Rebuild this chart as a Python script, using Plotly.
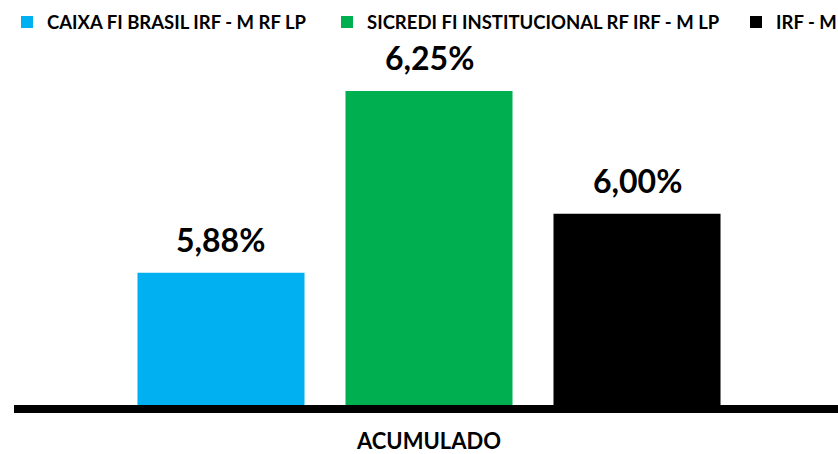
import plotly.graph_objects as go

categories = ["ACUMULADO"]
series_names = ["CAIXA FI BRASIL IRF - M RF LP", "SICREDI FI INSTITUCIONAL RF IRF - M LP", "IRF - M"]
series_values = [[5.88], [6.25], [6.00]]
colors = ["#00B0F0", "#00B050", "#000000"]

FONT = "Lato"
W, H = 838, 454
ml, mr, mt, mb = 14, 0, 50, 49
plot_w = W - ml - mr
plot_h = H - mt - mb
bargap = 0.2427
bargroupgap = 0.197
legend_x_px = [7, 327, 736]
legend_top_px = 3.5

fig = go.Figure()
legend_ids = ["legend", "legend2", "legend3"]
for name, vals, col, lid in zip(series_names, series_values, colors, legend_ids):
    fig.add_trace(go.Bar(
        x=categories, y=vals, name=name, marker=dict(color=col, line=dict(width=0)),
        hoverinfo="skip", legend=lid,
    ))

# data labels above bars
slot_px = plot_w * (1 - bargap) / len(series_names)
for i, vals in enumerate(series_values):
    for c, v in zip(categories, vals):
        fig.add_annotation(
            x=c, y=v, xref="x", yref="y",
            text=f"{v:.2f}".replace(".", ",") + "%",
            showarrow=False, yanchor="bottom",
            xshift=(i - (len(series_names) - 1) / 2) * slot_px,
            yshift=12,
            font=dict(family=FONT, size=32, color="#000000", weight="bold"),
        )

legend_style = dict(
    orientation="h", xref="paper", yref="paper",
    y=1 + (mt - legend_top_px) / plot_h, xanchor="left", yanchor="top",
    font=dict(family=FONT, size=18.5, color="#000000", weight="bold"),
    bgcolor="rgba(0,0,0,0)", itemclick=False, itemdoubleclick=False,
)
legends = {}
for lid, lx in zip(legend_ids, legend_x_px):
    legends[lid] = dict(legend_style, x=(lx - ml) / plot_w)

fig.update_layout(
    width=W, height=H,
    margin=dict(l=ml, r=mr, t=mt, b=mb, pad=0, autoexpand=False),
    paper_bgcolor="white", plot_bgcolor="white",
    barmode="group", bargap=bargap, bargroupgap=bargroupgap,
    showlegend=True,
    hovermode=False,
    xaxis=dict(
        range=[-415 / plot_w, 409 / plot_w],
        showline=True, linecolor="#000000", linewidth=8,
        showgrid=False, zeroline=False, ticks="",
        tickfont=dict(family=FONT, size=22, color="#000000", weight="bold"),
        ticklabelstandoff=10,
        fixedrange=True,
    ),
    yaxis=dict(
        range=[5.6106, 6.3335], visible=False, showgrid=False, zeroline=False,
        fixedrange=True,
    ),
    **legends,
)

fig.write_html(
    "out.html",
    config={"displayModeBar": False},
    post_script="document.body.style.margin='0';document.documentElement.style.overflow='hidden';",
)
